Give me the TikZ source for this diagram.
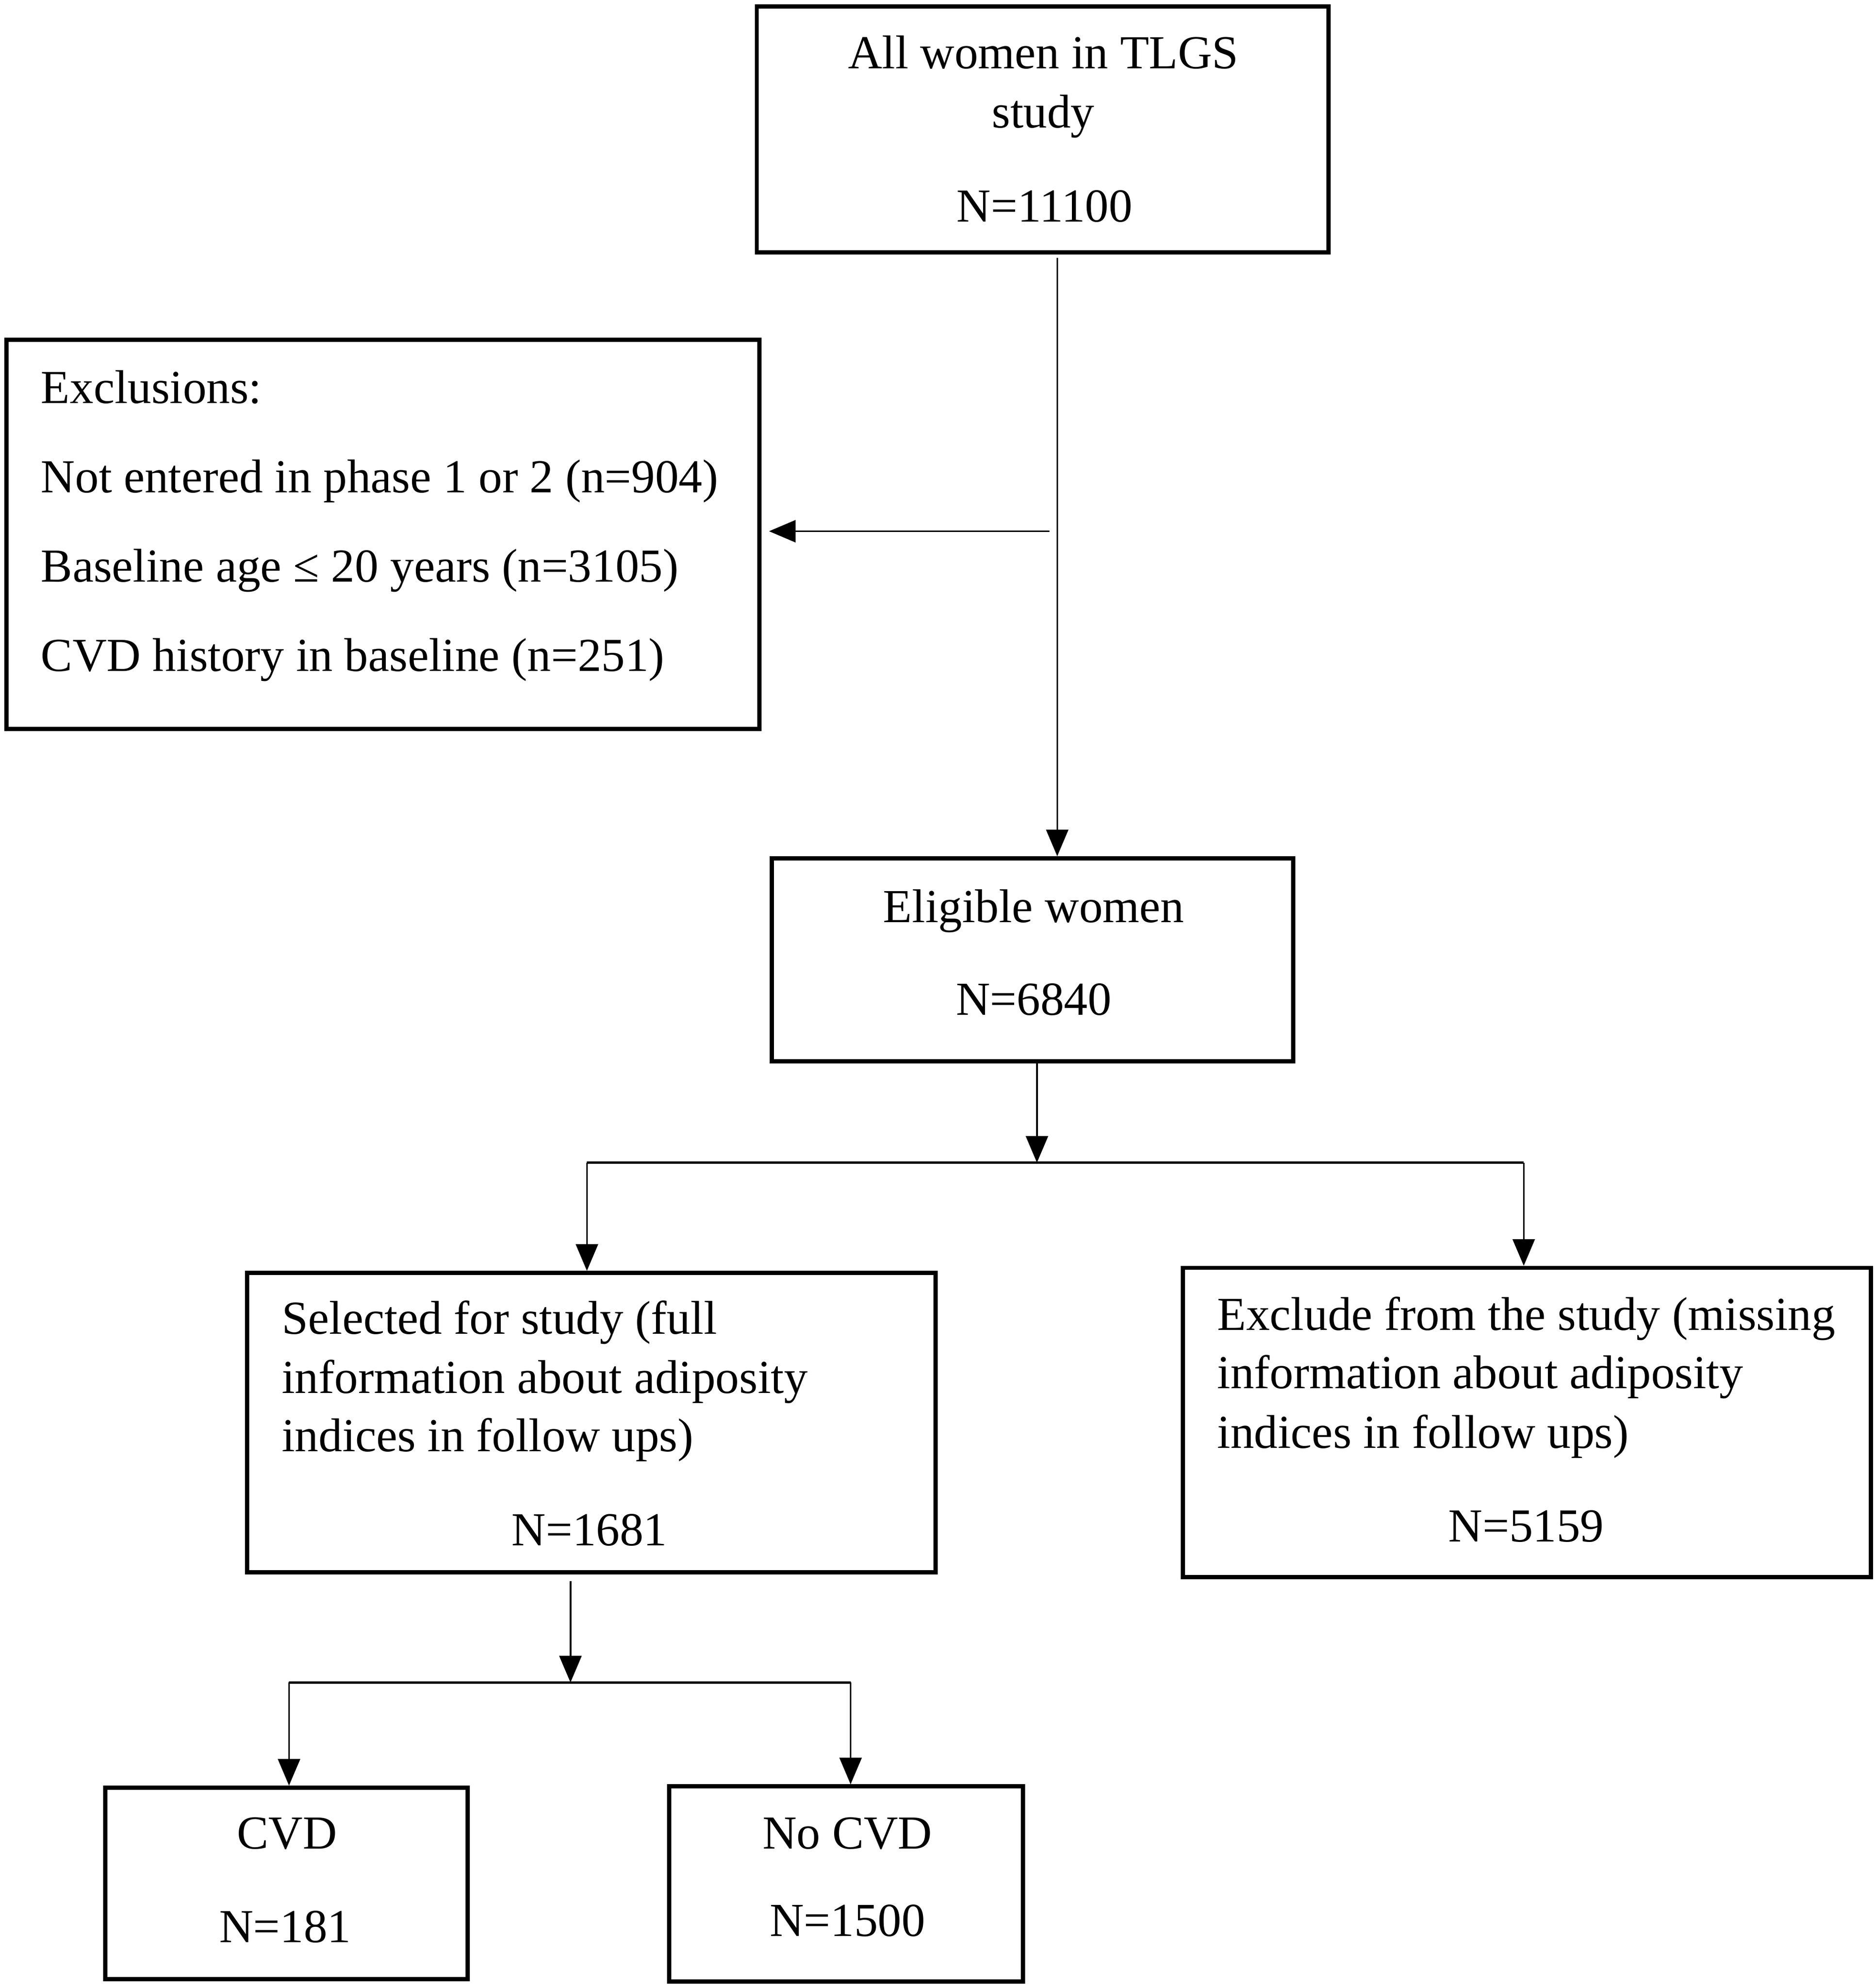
\documentclass[tikz,border=0pt]{standalone}
\usepackage{fontspec}
\setmainfont{Liberation Serif}
\usetikzlibrary{arrows.meta,fit}
\begin{document}
\begin{tikzpicture}[x=0.02cm,y=-0.02cm,
  box/.style={draw,line width=1.9pt,inner sep=0pt,rectangle},
  txt/.style={inner sep=0pt,font=\fontsize{21.25pt}{25pt}\selectfont},
  ctxt/.style={txt,anchor=base},
  ltxt/.style={txt,anchor=base west},
  conn/.style={line width=0.75pt,-{Triangle[length=0.42cm,width=0.35cm]}},
  branch/.style={line width=1.1pt}]
\useasboundingbox (0,0) rectangle (1479,1568);

% boxes
\node[box,fit={(597,5) (1048,199)}] (b1) {};
\node[box,fit={(5,268) (599,575)}] (b0) {};
\node[box,fit={(609,677) (1020,837)}] (b2) {};
\node[box,fit={(195,1004) (738,1240)}] (b3) {};
\node[box,fit={(933,1000) (1476,1244)}] (b4) {};
\node[box,fit={(83,1410) (369,1561)}] (b5) {};
\node[box,fit={(528,1409) (807,1563)}] (b6) {};

% texts
\node[ctxt] (t1a) at (823,54) {All women in TLGS};
\node[ctxt] (t1b) at (823,100.7) {study};
\node[ctxt] (t1c) at (824,175) {N=11100};

\node[ltxt] (t0a) at (32,318) {Exclusions:};
\node[ltxt] (t0b) at (32,388.6) {Not entered in phase 1 or 2 (n=904)};
\node[ltxt] (t0c) at (32,459) {Baseline age ≤ 20 years (n=3105)};
\node[ltxt] (t0d) at (32,529.5) {CVD history in baseline (n=251)};

\node[ctxt] (t2a) at (815.5,727.5) {Eligible women};
\node[ctxt] (t2b) at (815.5,800.5) {N=6840};

\node[ltxt] (t3a) at (222,1052) {Selected for study (full};
\node[ltxt] (t3b) at (222,1099) {information about adiposity};
\node[ltxt] (t3c) at (222,1145) {indices in follow ups)};
\node[ctxt] (t3d) at (465,1219) {N=1681};

\node[ltxt] (t4a) at (960,1049) {Exclude from the study (missing};
\node[ltxt] (t4b) at (960,1095) {information about adiposity};
\node[ltxt] (t4c) at (960,1142) {indices in follow ups)};
\node[ctxt] (t4d) at (1204,1216) {N=5159};

\node[ctxt] (t5a) at (226.5,1458) {CVD};
\node[ctxt] (t5b) at (225,1532) {N=181};
\node[ctxt] (t6a) at (668.5,1458) {No CVD};
\node[ctxt] (t6b) at (668.5,1527) {N=1500};

% connectors
\coordinate (c1) at (834,0);
\draw[conn,shorten <=1.5pt] (b1.south -| c1) -- (b2.north -| c1);

\coordinate (c2) at (828,419);
\draw[conn] (c2) -- ([xshift=0.12cm]b0.east |- c2);

\coordinate (j1) at (818,917);
\coordinate (jl) at (463,917);
\coordinate (jr) at (1202,917);
\draw[conn] (b2.south -| j1) -- (j1);
\draw[branch] (jl) -- (jr);
\draw[conn] (jl) -- (jl |- b3.north);
\draw[conn] (jr) -- (jr |- b4.north);

\coordinate (j2) at (450,1327);
\coordinate (jl2) at (228,1327);
\coordinate (jr2) at (671,1327);
\draw[conn,shorten <=3pt] (b3.south -| j2) -- (j2);
\draw[branch] (jl2) -- (jr2);
\draw[conn] (jl2) -- (jl2 |- b5.north);
\draw[conn] (jr2) -- (jr2 |- b6.north);
\end{tikzpicture}
\end{document}
